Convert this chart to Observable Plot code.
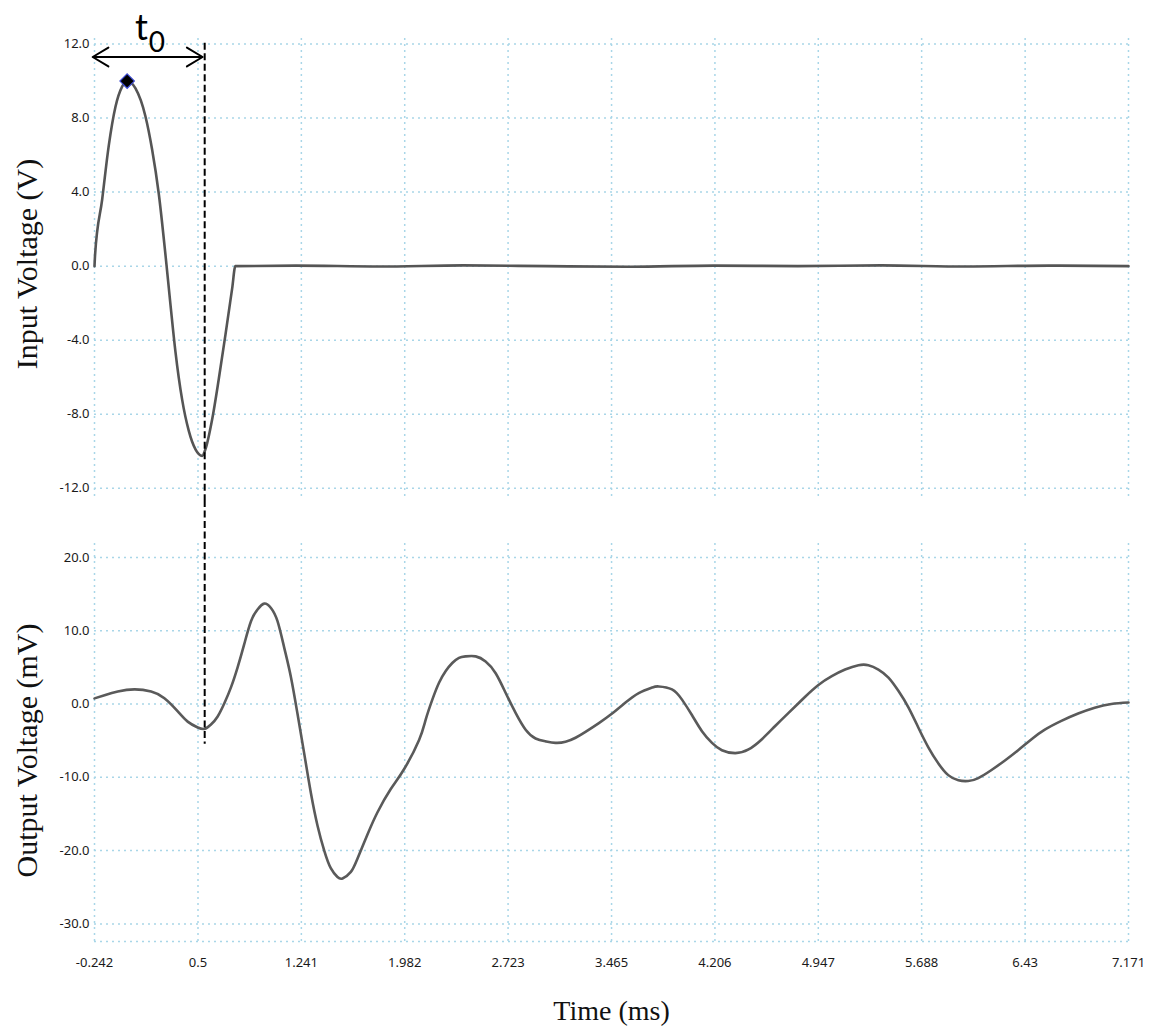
<!DOCTYPE html>
<html><head><meta charset="utf-8">
<script src="https://cdn.jsdelivr.net/npm/d3@7"></script>
<script src="https://cdn.jsdelivr.net/npm/@observablehq/plot@0.6"></script>
<style>
body{margin:0;background:#fff;}
#chart{position:relative;width:1151px;height:1028px;background:#fff;}
#chart svg{position:absolute;left:0;overflow:visible;background:transparent !important;}
</style></head><body><div id="chart"></div>
<script>
// ---- data ----
const xTicks = [-0.242, 0.5, 1.241, 1.982, 2.723, 3.465, 4.206, 4.947, 5.688, 6.43, 7.171];
const xTickLabels = ["-0.242","0.5","1.241","1.982","2.723","3.465","4.206","4.947","5.688","6.43","7.171"];
const inputTicks = [12, 8, 4, 0, -4, -8, -12];
const outputTicks = [20, 10, 0, -10, -20, -30];

const inputTime = [-0.242,-0.238,-0.187,-0.140,-0.092,-0.044,-0.008,0.052,0.123,0.171,0.219,0.267,0.303,0.338,0.386,0.434,0.482,0.530,0.553,0.601,0.649,0.697,0.745,0.768,
  1.2,1.8,2.4,3.0,3.6,4.2,4.8,5.4,6.0,6.6,7.171];
const inputVolt = [0,0.6,3.6,6.5,8.6,9.7,10.0,9.6,8.1,6.3,3.9,0.6,-2.1,-4.6,-7.2,-8.9,-9.9,-10.25,-9.9,-8.3,-6.1,-3.7,-1.2,0,
  0.03,-0.02,0.04,0,-0.03,0.03,0,0.04,-0.02,0.03,0];

const outputTime = [-0.242,-0.170,-0.075,0.044,0.164,0.259,0.355,0.426,0.498,0.546,0.593,0.641,0.689,0.737,0.784,0.832,0.880,0.927,0.975,1.023,1.070,1.118,1.166,1.213,1.261,1.309,1.357,1.405,1.452,1.500,1.536,1.596,1.643,1.715,1.786,1.882,1.977,
  2.085,2.133,2.180,2.228,2.276,2.323,2.371,2.419,2.491,2.562,2.634,2.706,2.777,2.849,2.920,2.992,3.063,3.135,3.207,3.278,3.374,3.469,3.565,3.660,3.755,3.803,3.898,3.970,4.041,4.113,4.185,4.256,4.352,4.447,4.543,4.638,4.734,4.805,
  4.853,4.948,5.044,5.139,5.235,5.306,5.378,5.450,5.521,5.593,5.664,5.736,5.808,5.879,5.951,6.022,6.094,6.189,6.285,6.380,6.476,6.571,6.690,6.810,6.929,7.048,7.171];
const outputVolt = [0.77,1.2,1.7,2.0,1.7,0.8,-1.0,-2.4,-3.2,-3.4,-2.8,-1.7,0.1,2.3,5.0,8.2,11.3,12.9,13.7,13.1,11.3,7.7,3.7,-1.3,-6.7,-12.1,-16.6,-20,-22.4,-23.6,-23.8,-22.9,-21.1,-17.8,-14.8,-11.6,-8.9,
  -4.9,-2.1,0.6,2.9,4.5,5.6,6.3,6.5,6.5,5.8,4.2,1.5,-1.2,-3.5,-4.7,-5.1,-5.3,-5.15,-4.6,-3.8,-2.6,-1.3,0.2,1.5,2.25,2.4,2.0,0.6,-1.5,-3.7,-5.3,-6.3,-6.7,-6.2,-4.8,-3.0,-1.2,0.1,
  1.0,2.6,3.8,4.7,5.3,5.3,4.7,3.6,1.8,-0.45,-3.2,-5.9,-8.1,-9.7,-10.4,-10.5,-10.1,-9.0,-7.7,-6.3,-4.8,-3.5,-2.3,-1.3,-0.5,0,0.2];

const peakTime = -0.008, peakVolt = 10.0;
const t0Time = 0.548;            // dashed marker
const t0ArrowLeft = -0.255, t0ArrowRight = 0.533, t0ArrowVolt = 11.3;
const t0TopVolt = 12.05, t0BottomMv = -5.5;

// ---- layout helpers ----
const W = 1151;
const gridColor = "#a9d6e8";
const gridDash = "2,4";
const tickFont = "'Noto Sans', sans-serif";
const titleFont = "'Liberation Serif', 'Times New Roman', serif";
const xDomain = [-0.242, 7.171];
const fmt1 = d => d.toFixed(1);

const inputData = inputTime.map((t, i) => ({t, v: inputVolt[i]}));
const outputData = outputTime.map((t, i) => ({t, v: outputVolt[i]}));

// top panel
const topDomain = [-12.5, 12.3];
const topBottomEdge = -12.66;
const topPlot = Plot.plot({
  width: W, height: 500,
  marginLeft: 94, marginRight: 23, marginTop: 38, marginBottom: 3,
  style: {fontFamily: tickFont, fontSize: "13px", color: "#1a1a1a", background: "transparent", overflow: "visible"},
  x: {domain: xDomain, axis: null},
  y: {domain: topDomain, ticks: inputTicks, tickFormat: fmt1, tickSize: 0, tickPadding: 5, label: null},
  marks: [
    Plot.ruleY(inputTicks, {stroke: gridColor, strokeWidth: 1.5, strokeDasharray: gridDash}),
    Plot.ruleX(xTicks, {stroke: gridColor, strokeWidth: 1.5, strokeDasharray: gridDash}),
    Plot.line(inputData, {x: "t", y: "v", stroke: "#555", strokeWidth: 2.6, curve: "monotone-x"}),
    Plot.dot([{t: peakTime, v: peakVolt}], {x: "t", y: "v", symbol: "diamond2", r: 6.5, fill: "#000", stroke: "#3a48d0", strokeWidth: 1.2}),
    Plot.ruleX([t0Time], {y1: t0TopVolt, y2: topBottomEdge, stroke: "#000", strokeWidth: 2, strokeDasharray: "7,3.5"}),
    Plot.arrow([{a: (t0ArrowLeft + t0ArrowRight) / 2, b: t0ArrowLeft}, {a: (t0ArrowLeft + t0ArrowRight) / 2, b: t0ArrowRight}],
      {x1: "a", x2: "b", y1: t0ArrowVolt, y2: t0ArrowVolt, stroke: "#000", strokeWidth: 2, headLength: 18, headAngle: 62}),
    Plot.text(["t"], {x: 0.095, y: 12.85, text: d => d, fontFamily: "Lato, sans-serif", fontSize: 36, fill: "#000", lineAnchor: "middle"}),
    Plot.text(["0"], {x: 0.205, y: 12.07, text: d => d, fontFamily: "Lato, sans-serif", fontSize: 28, fill: "#000", lineAnchor: "middle"}),
    Plot.text(["Input Voltage (V)"], {frameAnchor: "left", dx: -58, dy: -4, rotate: -90, text: d => d, fontFamily: titleFont, fontSize: 30, fill: "#111", textAnchor: "middle", lineAnchor: "bottom"})
  ]
});
topPlot.style.top = "0px";

// bottom panel
const botDomain = [-32.4, 21.9];
const botTopEdge = 27.77;
const bottomPlot = Plot.plot({
  width: W, height: 528,
  marginLeft: 94, marginRight: 23, marginTop: 43, marginBottom: 87,
  style: {fontFamily: tickFont, fontSize: "13px", color: "#1a1a1a", background: "transparent", overflow: "visible"},
  x: {domain: xDomain, ticks: xTicks, tickFormat: d => xTickLabels[xTicks.indexOf(d)], tickSize: 0, tickPadding: 16, label: null},
  y: {domain: botDomain, ticks: outputTicks, tickFormat: fmt1, tickSize: 0, tickPadding: 5, label: null},
  marks: [
    Plot.ruleY([...outputTicks, botDomain[0]], {stroke: gridColor, strokeWidth: 1.5, strokeDasharray: gridDash}),
    Plot.ruleX(xTicks, {stroke: gridColor, strokeWidth: 1.5, strokeDasharray: gridDash}),
    Plot.line(outputData, {x: "t", y: "v", stroke: "#5a5a5a", strokeWidth: 2.6, curve: "natural"}),
    Plot.ruleX([t0Time], {y1: botTopEdge, y2: t0BottomMv, stroke: "#000", strokeWidth: 2, strokeDasharray: "7,3.5"}),
    Plot.text(["Output Voltage (mV)"], {frameAnchor: "left", dx: -58, dy: 8, rotate: -90, text: d => d, fontFamily: titleFont, fontSize: 30, fill: "#111", textAnchor: "middle", lineAnchor: "bottom"}),
    Plot.text(["Time (ms)"], {frameAnchor: "bottom", dy: 70, text: d => d, fontFamily: titleFont, fontSize: 28, fill: "#111", textAnchor: "middle", lineAnchor: "middle"})
  ]
});
bottomPlot.style.top = "500px";

const chart = document.getElementById("chart");
chart.appendChild(topPlot);
chart.appendChild(bottomPlot);
</script></body></html>
